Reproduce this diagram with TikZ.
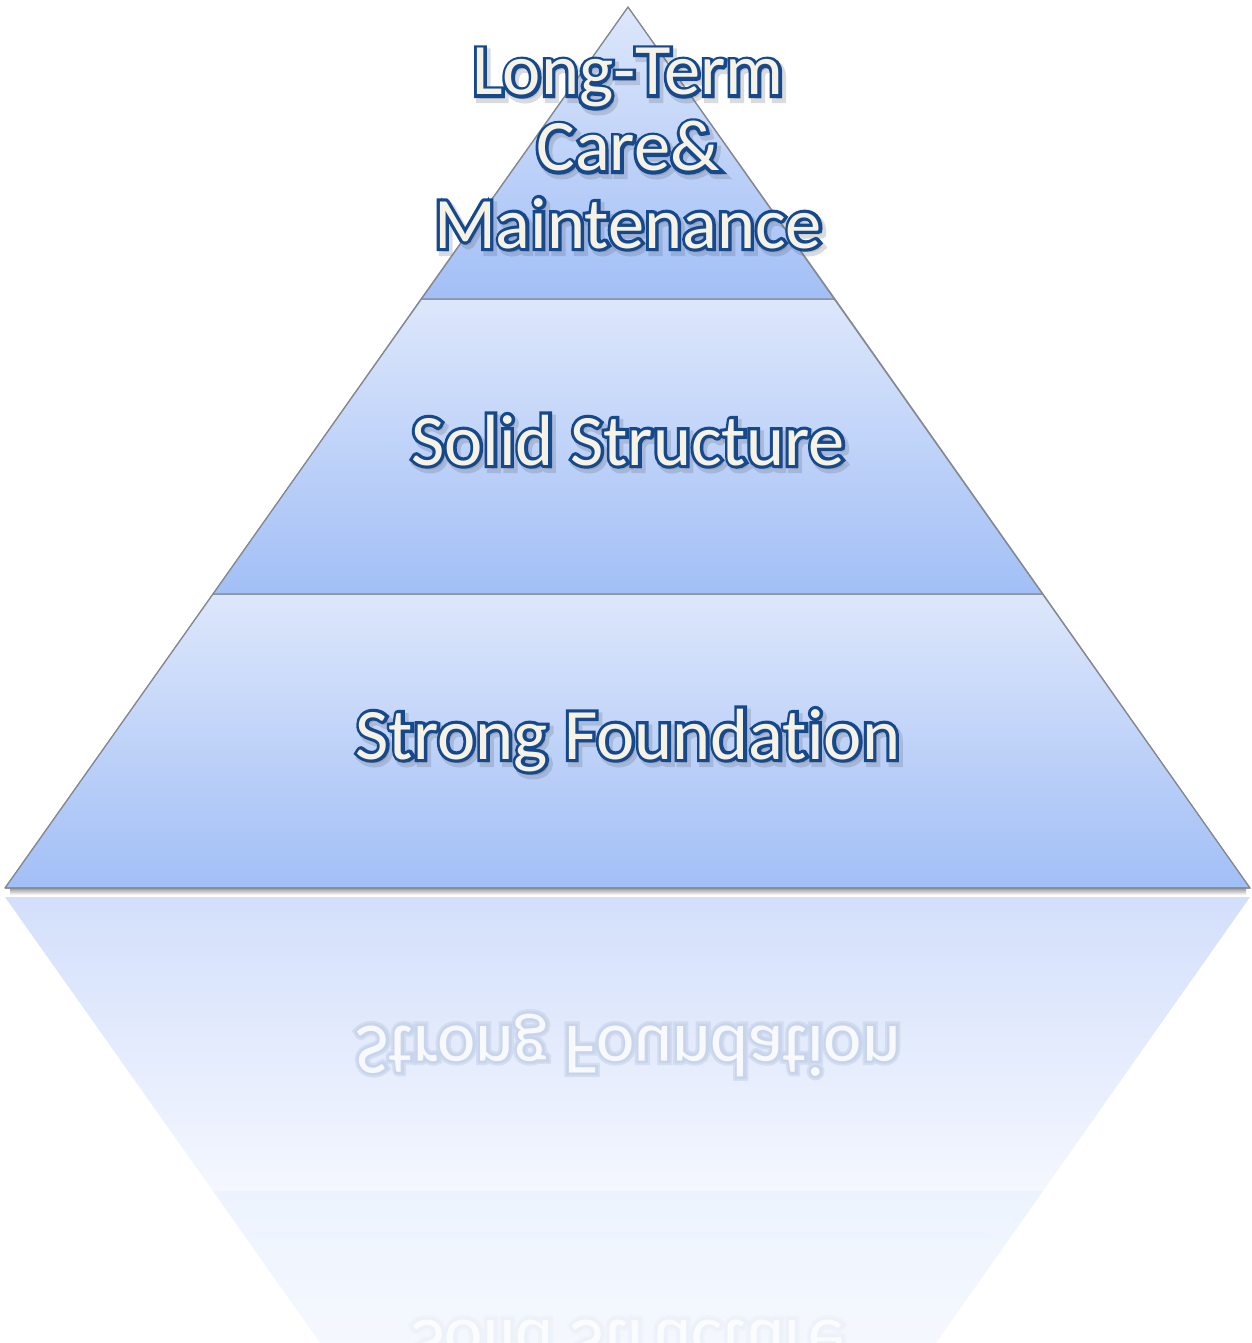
\documentclass[tikz,border=0pt]{standalone}
\usepackage{fontspec}
\setmainfont{Carlito}[Ligatures={NoCommon}]
\usetikzlibrary{calc}
\definecolor{tiertop}{HTML}{DDE7FB}
\definecolor{tiermid}{HTML}{C3D5FA}
\definecolor{tierbot}{HTML}{A2BFF6}
\definecolor{edgec}{HTML}{858A92}
\definecolor{txtfill}{HTML}{F6F2E6}
\definecolor{txtline}{HTML}{16498C}
\definecolor{refltop}{HTML}{D3DFFB}
\definecolor{reflbot}{HTML}{F4F7FE}
\definecolor{reflxtop}{HTML}{EDF3FE}
\definecolor{reflxbot}{HTML}{FCFDFF}
\definecolor{refltxtline}{HTML}{C6D3EA}
\definecolor{refltxtfill}{HTML}{F7F9FC}
\definecolor{refl2txtline}{HTML}{EEF2F9}
\definecolor{refl2txtfill}{HTML}{FBFCFE}
% fill+stroke text: #1 stroke width, #2 stroke rgb, #3 text
\newcommand\strokedtext[3]{\special{pdf:literal direct 2 Tr #1 w #2 RG}#3\special{pdf:literal direct 0 Tr 0.4 w}}
\newcommand\pyrlabel[4]{% name, x, baseline y, text
  \node[lbl, text=black!55, opacity=0.22] at ($(#2,#3)+(3pt,-4pt)$) {\strokedtext{8}{0.35 0.37 0.42}{#4}};
  \node[lbl, text=txtline] at (#2,#3) {\strokedtext{6.4}{0.086 0.286 0.549}{#4}};
  \node[lbl, text=txtfill] (#1) at (#2,#3) {#4};
}
% name, x, mirrored baseline y, text, line colour, line rgb, fill colour
\newcommand\refllabel[7]{%
  \begin{scope}[shift={(#2,#3)}]
    \node[lbl, text=#5, yscale=-1, transform shape, opacity=0.6] at (0,0) {\strokedtext{9}{#6}{#4}};
    \node[lbl, text=#5, yscale=-1, transform shape] at (0,0) {\strokedtext{5}{#6}{#4}};
    \node[lbl, text=#7, yscale=-1, transform shape] (#1) at (0,0) {#4};
  \end{scope}
}
\begin{document}
\begin{tikzpicture}[x=1pt,y=-1pt,
  lbl/.style={font=\fontsize{72.5}{78}\selectfont, anchor=base, inner sep=0pt},
  tier/.style={top color=tiertop, middle color=tiermid, bottom color=tierbot, draw=edgec, line width=1.1pt, line join=round}]
\useasboundingbox (0,0) rectangle (1252,1343);
\fill[white] (0,0) rectangle (1252,1343);
\clip (0,0) rectangle (1252,1343);

% pyramid coordinates
\coordinate (apex) at (628,7);
\coordinate (l1) at (421,299);  \coordinate (r1) at (835,299);
\coordinate (l2) at (213,594);  \coordinate (r2) at (1043,594);
\coordinate (l3) at (5,888);    \coordinate (r3) at (1250,888);

% reflection
\coordinate (ml3) at (5,897);   \coordinate (mr3) at (1250,897);
\coordinate (ml2) at (213,1191);\coordinate (mr2) at (1043,1191);
\coordinate (ml1) at (421,1486);\coordinate (mr1) at (835,1486);
\shade[top color=refltop, bottom color=reflbot] (ml3) -- (mr3) -- (mr2) -- (ml2) -- cycle;
\shade[top color=reflxtop, bottom color=reflxbot] (ml2) -- (mr2) -- (mr1) -- (ml1) -- cycle;
\refllabel{rstrong}{628}{1026}{Strong Foundation}{refltxtline}{0.78 0.83 0.92}{refltxtfill}
\refllabel{rsolid}{628}{1320}{Solid Structure}{refl2txtline}{0.93 0.95 0.98}{refl2txtfill}

% base shadow
\shade[top color=black!40, bottom color=white] (10,888) rectangle (1246,895);

% tiers
\shade[tier] (l3) -- (r3) -- (r2) -- (l2) -- cycle;
\shade[tier] (l2) -- (r2) -- (r1) -- (l1) -- cycle;
\shade[tier] (l1) -- (r1) -- (apex) -- cycle;
\draw[edgec, line width=1.1pt, line join=round] (l3) -- (apex) -- (r3) -- cycle;

% labels
\pyrlabel{lt1}{628}{95}{Long-Term}
\pyrlabel{lt2}{628}{171}{Care\&}
\pyrlabel{lt3}{628}{248}{Maintenance}
\pyrlabel{solid}{628}{465}{Solid Structure}
\pyrlabel{strong}{628}{759}{Strong Foundation}
\end{tikzpicture}
\end{document}
